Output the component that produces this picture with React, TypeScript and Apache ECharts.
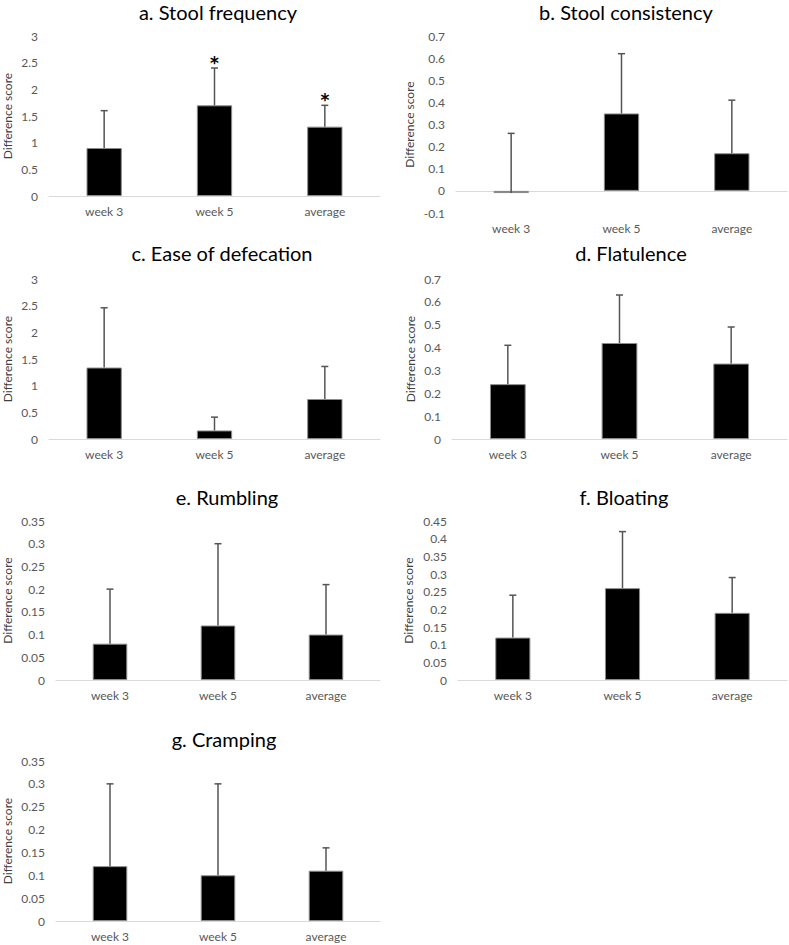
import React, { useEffect, useRef } from "react";
import * as echarts from "echarts";

// ---- data ----
const categories = ["week 3", "week 5", "average"];

const titles = [
  "a. Stool frequency",
  "b. Stool consistency",
  "c. Ease of defecation",
  "d. Flatulence",
  "e. Rumbling",
  "f. Bloating",
  "g. Cramping",
];

const stoolFrequency = [0.9, 1.7, 1.3];
const stoolFrequencyErr = [0.7, 0.7, 0.4];
const stoolFrequencySig = ["", "*", "*"];

const stoolConsistency = [-0.01, 0.35, 0.17];
const stoolConsistencyErr = [0.27, 0.27, 0.24];

const easeOfDefecation = [1.34, 0.16, 0.75];
const easeOfDefecationErr = [1.12, 0.25, 0.61];

const flatulence = [0.24, 0.42, 0.33];
const flatulenceErr = [0.17, 0.21, 0.16];

const rumbling = [0.08, 0.12, 0.1];
const rumblingErr = [0.12, 0.18, 0.11];

const bloating = [0.12, 0.26, 0.19];
const bloatingErr = [0.12, 0.16, 0.1];

const cramping = [0.12, 0.1, 0.11];
const crampingErr = [0.18, 0.2, 0.05];

const noSig = ["", "", ""];

// y-axis scales: [min, max, interval]
const axisA = [0, 3, 0.5];
const axisB = [-0.1, 0.7, 0.1];
const axisC = [0, 3, 0.5];
const axisD = [0, 0.7, 0.1];
const axisE = [0, 0.35, 0.05];
const axisF = [0, 0.45, 0.05];
const axisG = [0, 0.35, 0.05];

const yName = "Difference score";

// ---- layout ----
const FONT = "Lato, 'Open Sans', sans-serif";
const W = 789;

const panels = [
  { values: stoolFrequency, err: stoolFrequencyErr, sig: stoolFrequencySig, axis: axisA,
    left: 43, rightX: 380, top: 36, height: 160, nameGap: 36, titleX: 218, titleY: 12 },
  { values: stoolConsistency, err: stoolConsistencyErr, sig: noSig, axis: axisB,
    left: 456, rightX: 787, top: 36, height: 177, nameGap: 41, titleX: 626, titleY: 12 },
  { values: easeOfDefecation, err: easeOfDefecationErr, sig: noSig, axis: axisC,
    left: 43, rightX: 380, top: 279, height: 160, nameGap: 36, titleX: 222, titleY: 253 },
  { values: flatulence, err: flatulenceErr, sig: noSig, axis: axisD,
    left: 452, rightX: 787, top: 279, height: 160, nameGap: 36, titleX: 631, titleY: 253 },
  { values: rumbling, err: rumblingErr, sig: noSig, axis: axisE,
    left: 50, rightX: 380, top: 521, height: 159, nameGap: 43, titleX: 227, titleY: 497 },
  { values: bloating, err: bloatingErr, sig: noSig, axis: axisF,
    left: 458, rightX: 787, top: 521, height: 159, nameGap: 44, titleX: 624, titleY: 497 },
  { values: cramping, err: crampingErr, sig: noSig, axis: axisG,
    left: 50, rightX: 380, top: 761, height: 160, nameGap: 43, titleX: 224, titleY: 739 },
];

function buildOption() {
  const grid: any[] = [];
  const xAxis: any[] = [];
  const yAxis: any[] = [];
  const series: any[] = [];
  const graphic: any[] = [];

  panels.forEach((p, i) => {
    grid.push({ left: p.left, width: p.rightX - p.left, top: p.top, height: p.height, containLabel: false });
    xAxis.push({
      type: "category",
      gridIndex: i,
      data: categories,
      axisLine: { show: true, onZero: true, lineStyle: { color: "#d9d9d9", width: 1 } },
      axisTick: { show: false },
      axisLabel: { color: "#595959", fontSize: 12, fontFamily: FONT, margin: 9 },
      splitLine: { show: false },
    });
    yAxis.push({
      type: "value",
      gridIndex: i,
      min: p.axis[0],
      max: p.axis[1],
      interval: p.axis[2],
      name: yName,
      nameLocation: "middle",
      nameGap: p.nameGap,
      nameRotate: 90,
      nameTextStyle: { color: "#404040", fontSize: 12, fontFamily: FONT },
      axisLine: { show: false },
      axisTick: { show: false },
      splitLine: { show: false },
      axisLabel: { color: "#595959", fontSize: 12, fontFamily: FONT, margin: 11 },
    });
    series.push({
      type: "bar",
      xAxisIndex: i,
      yAxisIndex: i,
      data: p.values,
      barWidth: "32%",
      itemStyle: { color: "#000000", borderColor: "#8c8c8c", borderWidth: 1 },
      silent: true,
      z: 2,
    });
    series.push({
      type: "custom",
      xAxisIndex: i,
      yAxisIndex: i,
      data: p.values.map((v, k) => [k, v, v + p.err[k]]),
      z: 3,
      silent: true,
      renderItem: (params: any, api: any) => {
        const k = api.value(0);
        const lo = api.coord([k, api.value(1)]);
        const hi = api.coord([k, api.value(2)]);
        const children: any[] = [
          { type: "line", shape: { x1: lo[0], y1: lo[1], x2: hi[0], y2: hi[1] },
            style: { stroke: "#555555", lineWidth: 1.5 } },
          { type: "line", shape: { x1: hi[0] - 3.5, y1: hi[1], x2: hi[0] + 3.5, y2: hi[1] },
            style: { stroke: "#555555", lineWidth: 1.5 } },
        ];
        const s = p.sig[params.dataIndex];
        if (s) {
          children.push({
            type: "text",
            x: hi[0],
            y: hi[1] + 3,
            style: { text: s, fill: "#000", font: "bold 17px 'DejaVu Sans', sans-serif", align: "center", verticalAlign: "bottom" },
          });
        }
        return { type: "group", children };
      },
    });
    graphic.push({
      type: "text",
      x: p.titleX,
      y: p.titleY,
      style: {
        text: titles[i],
        fill: "#000000",
        font: "20px " + FONT,
        align: "center",
        verticalAlign: "middle",
      },
    });
  });

  return { animation: false, backgroundColor: "#ffffff", grid, xAxis, yAxis, series, graphic };
}

export default function App() {
  const ref = useRef<HTMLDivElement>(null);
  useEffect(() => {
    if (!ref.current) return;
    const chart = echarts.init(ref.current, undefined, { renderer: "svg" });
    chart.setOption(buildOption() as any);
    return () => chart.dispose();
  }, []);
  return (
    <div
      ref={ref}
      style={{ position: "absolute", left: 0, top: 0, width: W, height: 945, background: "#fff" }}
    />
  );
}
